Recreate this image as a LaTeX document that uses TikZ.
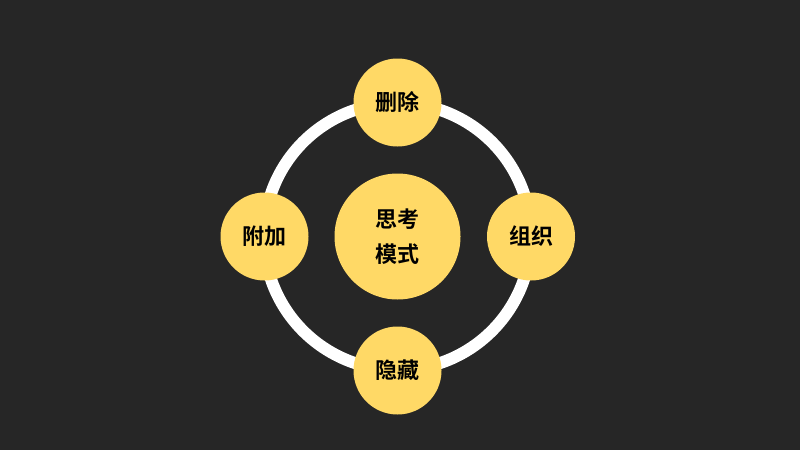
\documentclass[tikz,border=0pt]{standalone}
\usepackage{fontspec}
\newfontfamily\cjk{Noto Sans CJK SC Bold}
\definecolor{bg}{HTML}{262626}
\definecolor{gold}{HTML}{FFD966}
\begin{document}
\begin{tikzpicture}[x=1pt,y=-1pt,
  small/.style={circle,fill=gold,minimum size=88pt,inner sep=0pt,font=\cjk\fontsize{22}{26}\selectfont,text=black},
  big/.style={circle,fill=gold,minimum size=126pt,inner sep=0pt,font=\cjk\fontsize{22}{35}\selectfont,text=black,align=center}]
\fill[bg] (0,0) rectangle (800,450);
\useasboundingbox (0,0) rectangle (800,450);
\coordinate (c) at (397.5,236.5);
\draw[white,line width=12pt] (c) circle[radius=133.5];
\node[big] (center) at (c) {思考\\模式};
\node[small] (top) at (397.5,102.5) {删除};
\node[small] (bottom) at (397.5,370.5) {隐藏};
\node[small] (left) at (264.5,236.5) {附加};
\node[small] (right) at (531,236.5) {组织};
\end{tikzpicture}
\end{document}
